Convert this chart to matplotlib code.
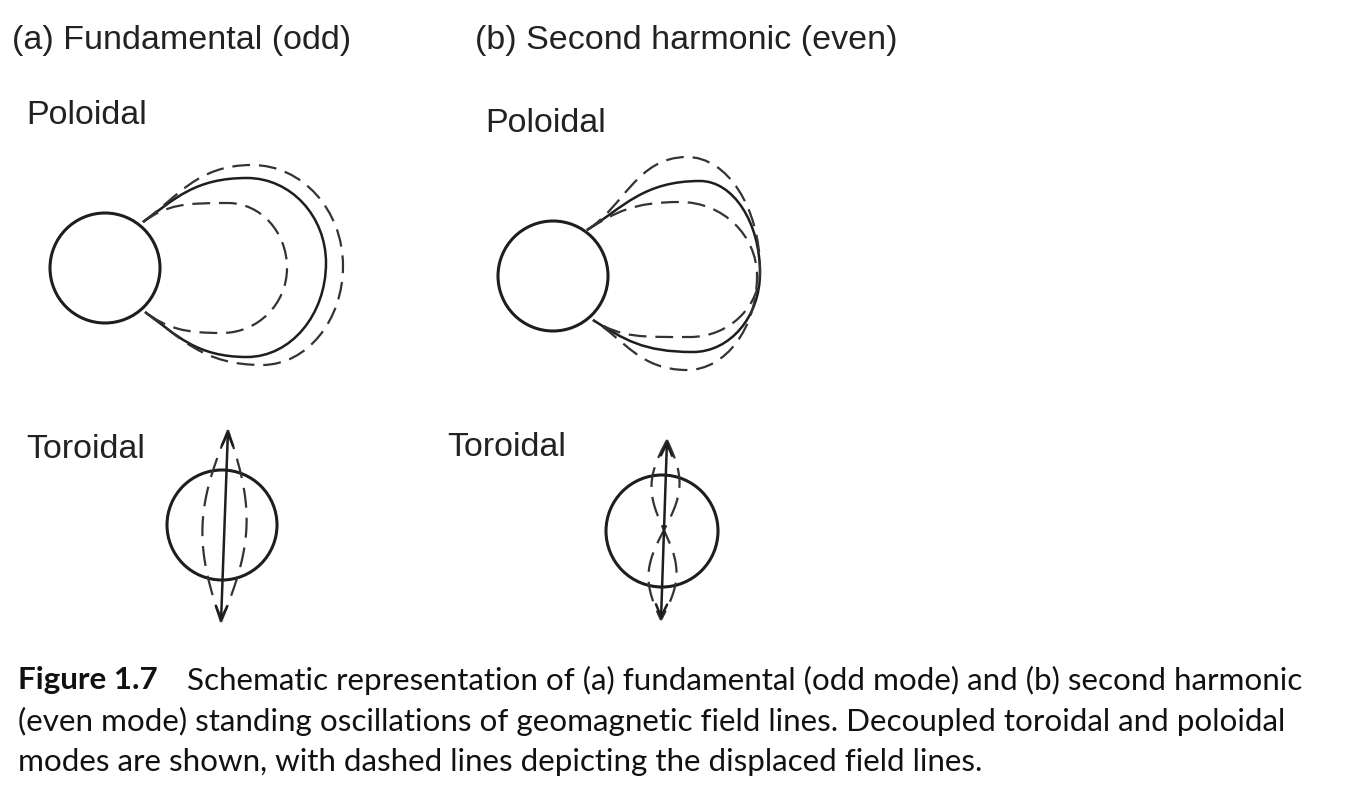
import numpy as np
import matplotlib.pyplot as plt
from matplotlib.path import Path
from matplotlib.patches import PathPatch, Circle

# ---- geometry, pixel coords (y grows downwards) ----
W, H = 1359, 795

# poloidal panels: earth circle + field-line footpoints
pol_cx = [105, 553]
pol_cy = [268, 276]
pol_r = [55, 55]
foot_up = [(143, 222), (587, 230)]
foot_dn = [(145, 312), (593, 320)]
foot_ang = [36, 32]          # tangent at footpoint, degrees

# (a) fundamental: solid, inner dashed, outer dashed
a_right = [(326, 263), (287, 268), (343, 266)]
a_top = [(247, 178), (228, 203), (252, 165)]
a_bot = [(247, 357), (222, 333), (262, 365)]
a_style = ['-', '--', '--']

# (b) second harmonic: solid, dashed 1, dashed 2
b_right = [(760, 273), (760, 270), (757, 276)]
b_top = [(700, 181), (687, 157), (680, 202)]
b_bot = [(693, 352), (690, 337), (687, 370)]
b_style = ['-', '--', '--']

# toroidal panels
tor_cx = [222, 662]
tor_cy = [525, 531]
tor_r = [55, 56]
tor_top = [(228, 430), (667, 440)]
tor_bot = [(221, 622), (661, 620)]
tor_amp = [22, 14]     # dashed displacement
tor_mode = [1, 2]      # half wavelengths along the line

titles = ['(a) Fundamental (odd)', '(b) Second harmonic (even)']
title_xy = [(12, 40), (475, 40)]
pol_lab_xy = [(26, 115), (485, 123)]
tor_lab_xy = [(26, 450), (447, 447)]

cap_lines = ['Schematic representation of (a) fundamental (odd mode) and (b) second harmonic',
             '(even mode) standing oscillations of geomagnetic field lines. Decoupled toroidal and poloidal',
             'modes are shown, with dashed lines depicting the displaced field lines.']
cap_y = [680, 721, 762]

INK = '#1e1e1e'
DASH = '#333333'
K = 0.5523


def loop_path(fu, fd, ang, top, right, bot, m=0.5, n=0.35):
    fu, fd, top, right, bot = map(np.array, (fu, fd, top, right, bot))
    a = np.deg2rad(ang)
    du = np.array([np.cos(a), -np.sin(a)])
    dd = np.array([np.cos(a), np.sin(a)])
    hu = n * np.hypot(*(top - fu))
    hd = n * np.hypot(*(bot - fd))
    pts = [fu,
           fu + hu * du, (top[0] - m * (top[0] - fu[0]), top[1]), top,
           (top[0] + K * (right[0] - top[0]), top[1]), (right[0], right[1] - K * (right[1] - top[1])), right,
           (right[0], right[1] + K * (bot[1] - right[1])), (bot[0] + K * (right[0] - bot[0]), bot[1]), bot,
           (bot[0] - m * (bot[0] - fd[0]), bot[1]), fd + hd * dd, fd]
    codes = [Path.MOVETO] + [Path.CURVE4] * 12
    return Path(np.array(pts, dtype=float), codes)


fig = plt.figure(figsize=(W / 100, H / 100), dpi=100)
ax = fig.add_axes([0, 0, 1, 1])
ax.set_xlim(0, W)
ax.set_ylim(H, 0)
ax.set_aspect('equal')
ax.axis('off')

# poloidal
for i, (rights, tops, bots, styles) in enumerate([(a_right, a_top, a_bot, a_style),
                                                   (b_right, b_top, b_bot, b_style)]):
    ax.add_patch(Circle((pol_cx[i], pol_cy[i]), pol_r[i], fill=False, lw=2.2, ec=INK))
    for r, t, b, s in zip(rights, tops, bots, styles):
        p = loop_path(foot_up[i], foot_dn[i], foot_ang[i], t, r, b)
        if s == '-':
            ax.add_patch(PathPatch(p, fill=False, lw=1.8, ec=INK))
        else:
            ax.add_patch(PathPatch(p, fill=False, lw=1.6, ec=DASH, linestyle=(0, (8, 4))))

# toroidal
t = np.linspace(0, 1, 200)
for i in range(2):
    ax.add_patch(Circle((tor_cx[i], tor_cy[i]), tor_r[i], fill=False, lw=2.2, ec=INK))
    x0 = tor_top[i][0] + t * (tor_bot[i][0] - tor_top[i][0])
    y0 = tor_top[i][1] + t * (tor_bot[i][1] - tor_top[i][1])
    off = tor_amp[i] * np.sin(tor_mode[i] * np.pi * t)
    for sgn in (-1, 1):
        ax.plot(x0 + sgn * off, y0, color=DASH, lw=1.6, linestyle=(0, (9, 4.5)))
    ax.annotate('', xy=tor_top[i], xytext=tor_bot[i],
                arrowprops=dict(arrowstyle='<->,head_length=0.45,head_width=0.2',
                                lw=1.8, color=INK, mutation_scale=20,
                                shrinkA=0, shrinkB=0))

lab_font = dict(family='Liberation Sans', fontsize=24.5, color='#222222', va='center', ha='left')
for s, (x, y) in zip(titles, title_xy):
    ax.text(x, y, s, **lab_font)
for (x, y) in pol_lab_xy:
    ax.text(x, y, 'Poloidal', **lab_font)
for (x, y) in tor_lab_xy:
    ax.text(x, y, 'Toroidal', **lab_font)

# caption
cap_font = dict(family='Lato', fontsize=22.6, color='#111111', va='center', ha='left')
ax.text(18, cap_y[0], 'Figure 1.7', fontweight='bold', **cap_font)
ax.text(187, cap_y[0], cap_lines[0], **cap_font)
ax.text(18, cap_y[1], cap_lines[1], **cap_font)
ax.text(18, cap_y[2], cap_lines[2], **cap_font)

fig.savefig('out.png', dpi=100)
